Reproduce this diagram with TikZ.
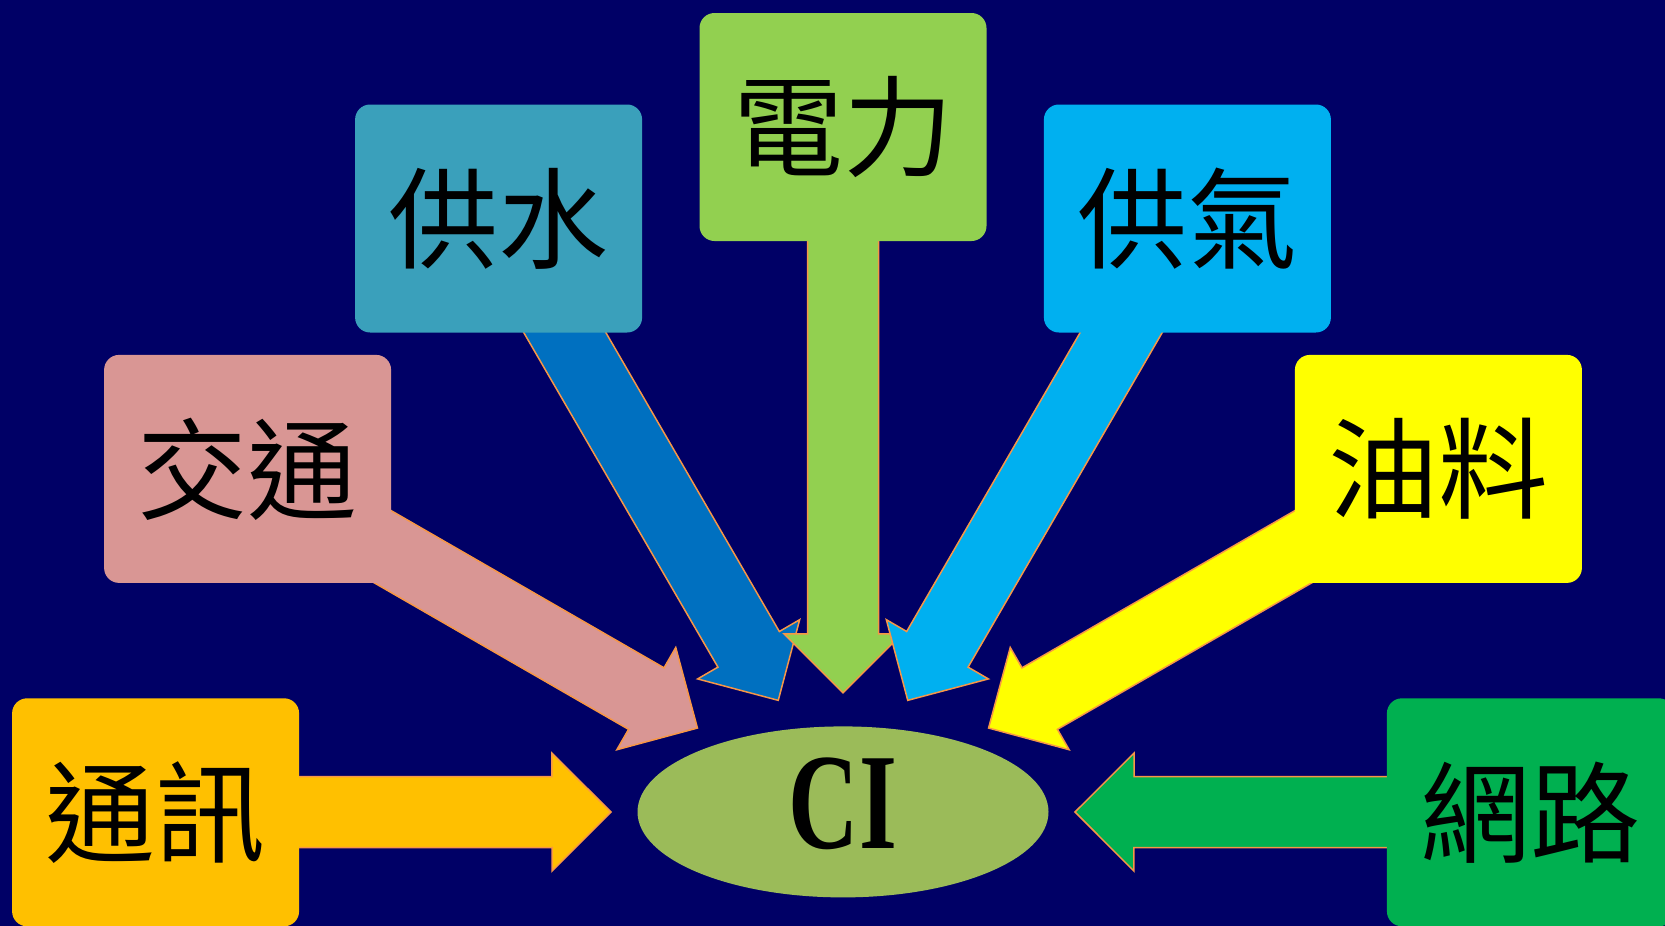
\documentclass[tikz,border=0pt]{standalone}
\usepackage{fontspec}
\setmainfont{Liberation Serif}
\newfontfamily\cjk{Noto Sans CJK TC}
\usetikzlibrary{positioning,calc,shapes.geometric}
\pgfdeclarelayer{bg}
\pgfsetlayers{bg,main}

\definecolor{navy}{HTML}{000066}
\definecolor{edge}{HTML}{F79646}
\definecolor{ccomm}{HTML}{FFC000}
\definecolor{ctrans}{HTML}{D99694}
\definecolor{cwater}{HTML}{3AA0BB}
\definecolor{cwaterflow}{HTML}{0070C0}
\definecolor{cpower}{HTML}{92D050}
\definecolor{cgas}{HTML}{00B0F0}
\definecolor{coil}{HTML}{FFFF00}
\definecolor{cnet}{HTML}{00B050}
\definecolor{cci}{HTML}{9BBB59}

% block arrow from a sector box towards CI: colour, box, tip distance from CI
\newcommand{\feed}[3]{%
  \coordinate (tip) at ($(ci.center)!#3!(#2.center)$);
  \coordinate (hb) at ($(tip)!59pt!(#2.center)$);
  \filldraw[flow,fill=#1]
    ($(#2.center)!35.5pt!90:(tip)$) -- ($(hb)!35.5pt!90:(tip)$) -- ($(hb)!59pt!90:(tip)$)
    -- (tip)
    -- ($(hb)!59pt!-90:(tip)$) -- ($(hb)!35.5pt!-90:(tip)$) -- ($(#2.center)!35.5pt!-90:(tip)$)
    -- cycle;
}

\tikzset{
  sector/.style={rounded corners=15pt,minimum width=287pt,minimum height=228pt,
    inner sep=0pt,font=\cjk\fontsize{110}{120}\selectfont},
  flow/.style={draw=edge,line width=1.5pt,line join=miter},
}

\begin{document}
\begin{tikzpicture}[x=1pt,y=-1pt]
	\useasboundingbox (0,0) rectangle (1665,926);
	\node[sector,fill=cpower] (power) at (843,127) {電力};
	\node[sector,fill=cwater] (water) [left=57pt of power,yshift=-91.5pt] {供水};
	\node[sector,fill=cgas] (gas) [right=57pt of power,yshift=-91.5pt] {供氣};
	\node[sector,fill=ctrans] (trans) [below=22pt of water,xshift=-251pt] {交通};
	\node[sector,fill=coil] (oil) [below=22pt of gas,xshift=251pt] {油料};
	\node[sector,fill=ccomm] (comm) [below=115pt of trans,xshift=-92pt] {通訊};
	\node[sector,fill=cnet] (net) [below=115pt of oil,xshift=92pt] {網路};
	\node[ellipse,fill=cci,minimum width=411pt,minimum height=171pt,inner sep=0pt,
		text depth=17pt,font=\fontsize{137}{140}\selectfont\bfseries]
		(ci) [below=485pt of power] {\scalebox{0.71}[1]{CI}};

	\begin{pgfonlayer}{bg}
	\fill[navy] (0,0) rectangle (1665,926);
	\feed{ccomm}{comm}{232pt}
	\feed{ctrans}{trans}{168pt}
	\feed{cwaterflow}{water}{129pt}
	\feed{cpower}{power}{119pt}
	\feed{cgas}{gas}{129pt}
	\feed{coil}{oil}{168pt}
	\feed{cnet}{net}{232pt}
	\end{pgfonlayer}
\end{tikzpicture}
\end{document}
